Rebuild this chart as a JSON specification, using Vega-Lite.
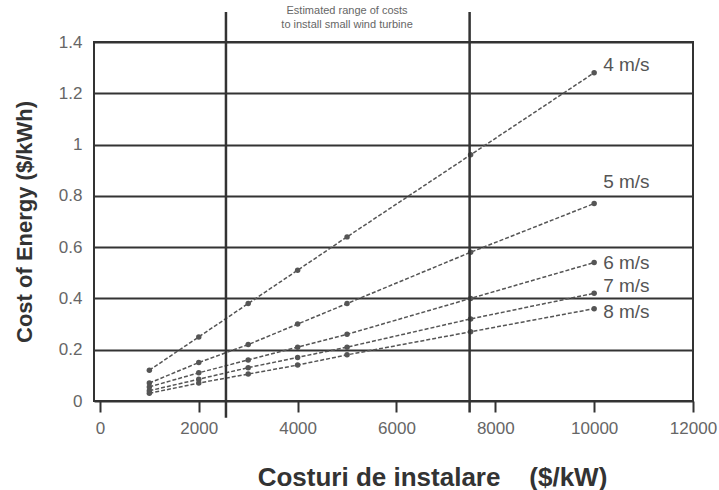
{
  "$schema": "https://vega.github.io/schema/vega-lite/v6.json",
  "autosize": "none",
  "width": 599,
  "height": 359,
  "padding": {"left": 94, "top": 42, "right": 26, "bottom": 89},
  "background": "white",
  "config": {
    "view": {"stroke": "#333", "strokeWidth": 2},
    "font": "Liberation Sans"
  },
  "datasets": {
    "series": [
      {"cost": 1000, "coe": 0.12, "speed": "4 m/s"},
      {"cost": 2000, "coe": 0.25, "speed": "4 m/s"},
      {"cost": 3000, "coe": 0.38, "speed": "4 m/s"},
      {"cost": 4000, "coe": 0.51, "speed": "4 m/s"},
      {"cost": 5000, "coe": 0.64, "speed": "4 m/s"},
      {"cost": 7500, "coe": 0.96, "speed": "4 m/s"},
      {"cost": 10000, "coe": 1.28, "speed": "4 m/s"},
      {"cost": 1000, "coe": 0.07, "speed": "5 m/s"},
      {"cost": 2000, "coe": 0.15, "speed": "5 m/s"},
      {"cost": 3000, "coe": 0.22, "speed": "5 m/s"},
      {"cost": 4000, "coe": 0.30, "speed": "5 m/s"},
      {"cost": 5000, "coe": 0.38, "speed": "5 m/s"},
      {"cost": 7500, "coe": 0.58, "speed": "5 m/s"},
      {"cost": 10000, "coe": 0.77, "speed": "5 m/s"},
      {"cost": 1000, "coe": 0.055, "speed": "6 m/s"},
      {"cost": 2000, "coe": 0.11, "speed": "6 m/s"},
      {"cost": 3000, "coe": 0.16, "speed": "6 m/s"},
      {"cost": 4000, "coe": 0.21, "speed": "6 m/s"},
      {"cost": 5000, "coe": 0.26, "speed": "6 m/s"},
      {"cost": 7500, "coe": 0.40, "speed": "6 m/s"},
      {"cost": 10000, "coe": 0.54, "speed": "6 m/s"},
      {"cost": 1000, "coe": 0.04, "speed": "7 m/s"},
      {"cost": 2000, "coe": 0.085, "speed": "7 m/s"},
      {"cost": 3000, "coe": 0.13, "speed": "7 m/s"},
      {"cost": 4000, "coe": 0.17, "speed": "7 m/s"},
      {"cost": 5000, "coe": 0.21, "speed": "7 m/s"},
      {"cost": 7500, "coe": 0.32, "speed": "7 m/s"},
      {"cost": 10000, "coe": 0.42, "speed": "7 m/s"},
      {"cost": 1000, "coe": 0.03, "speed": "8 m/s"},
      {"cost": 2000, "coe": 0.07, "speed": "8 m/s"},
      {"cost": 3000, "coe": 0.105, "speed": "8 m/s"},
      {"cost": 4000, "coe": 0.14, "speed": "8 m/s"},
      {"cost": 5000, "coe": 0.18, "speed": "8 m/s"},
      {"cost": 7500, "coe": 0.27, "speed": "8 m/s"},
      {"cost": 10000, "coe": 0.36, "speed": "8 m/s"}
    ],
    "labels": [
      {"cost": 10000, "coe": 1.31, "speed": "4 m/s"},
      {"cost": 10000, "coe": 0.854, "speed": "5 m/s"},
      {"cost": 10000, "coe": 0.538, "speed": "6 m/s"},
      {"cost": 10000, "coe": 0.449, "speed": "7 m/s"},
      {"cost": 10000, "coe": 0.347, "speed": "8 m/s"}
    ],
    "range": [
      {"cost": 2550, "top": 1.517, "bottom": -0.065},
      {"cost": 7480, "top": 1.517, "bottom": -0.045}
    ],
    "note": [
      {"cost": 5000, "coe": 1.522, "text": "Estimated range of costs"},
      {"cost": 5000, "coe": 1.468, "text": "to install small wind turbine"}
    ]
  },
  "layer": [
    {
      "data": {"name": "series"},
      "mark": {"type": "line", "color": "#555", "strokeWidth": 1.5, "strokeDash": [4, 2], "clip": false},
      "encoding": {
        "x": {
          "field": "cost", "type": "quantitative",
          "scale": {"domain": [-120, 12000], "nice": false, "zero": false},
          "axis": {
            "values": [0, 2000, 4000, 6000, 8000, 10000, 12000],
            "format": "d",
            "grid": false, "domain": false,
            "tickColor": "#333", "tickWidth": 2, "tickSize": 11,
            "labelFontSize": 17, "labelColor": "#666", "labelPadding": 8,
            "labelFlush": false,
            "title": "Costuri de instalare\u00a0\u00a0\u00a0\u00a0($/kW)",
            "titleFontSize": 26, "titleFontWeight": "bold", "titleColor": "#333",
            "titleX": 338, "titleY": 84, "titleAlign": "center", "titleBaseline": "alphabetic"
          }
        },
        "y": {
          "field": "coe", "type": "quantitative",
          "scale": {"domain": [0, 1.4], "nice": false},
          "axis": {
            "values": [0, 0.2, 0.4, 0.6, 0.8, 1, 1.2, 1.4],
            "format": "~g",
            "grid": true, "gridColor": "#333", "gridWidth": 2, "gridOpacity": 1,
            "domain": false, "ticks": false,
            "labelFontSize": 17, "labelColor": "#666", "labelPadding": 12,
            "title": "Cost of Energy ($/kWh)",
            "titleFontSize": 22, "titleFontWeight": "bold", "titleColor": "#333",
            "titlePadding": 22
          }
        },
        "detail": {"field": "speed"}
      }
    },
    {
      "data": {"name": "series"},
      "mark": {"type": "point", "filled": true, "color": "#555", "size": 30, "opacity": 1},
      "encoding": {
        "x": {"field": "cost", "type": "quantitative"},
        "y": {"field": "coe", "type": "quantitative"}
      }
    },
    {
      "data": {"name": "range"},
      "mark": {"type": "rule", "color": "#333", "strokeWidth": 2.5, "clip": false},
      "encoding": {
        "x": {"field": "cost", "type": "quantitative"},
        "y": {"field": "top", "type": "quantitative"},
        "y2": {"field": "bottom"}
      }
    },
    {
      "data": {"name": "labels"},
      "mark": {"type": "text", "align": "left", "baseline": "middle", "dx": 9, "fontSize": 19, "color": "#555", "clip": false},
      "encoding": {
        "x": {"field": "cost", "type": "quantitative"},
        "y": {"field": "coe", "type": "quantitative"},
        "text": {"field": "speed"}
      }
    },
    {
      "data": {"name": "note"},
      "mark": {"type": "text", "align": "center", "baseline": "middle", "fontSize": 11, "color": "#666", "clip": false},
      "encoding": {
        "x": {"field": "cost", "type": "quantitative"},
        "y": {"field": "coe", "type": "quantitative"},
        "text": {"field": "text"}
      }
    }
  ]
}
